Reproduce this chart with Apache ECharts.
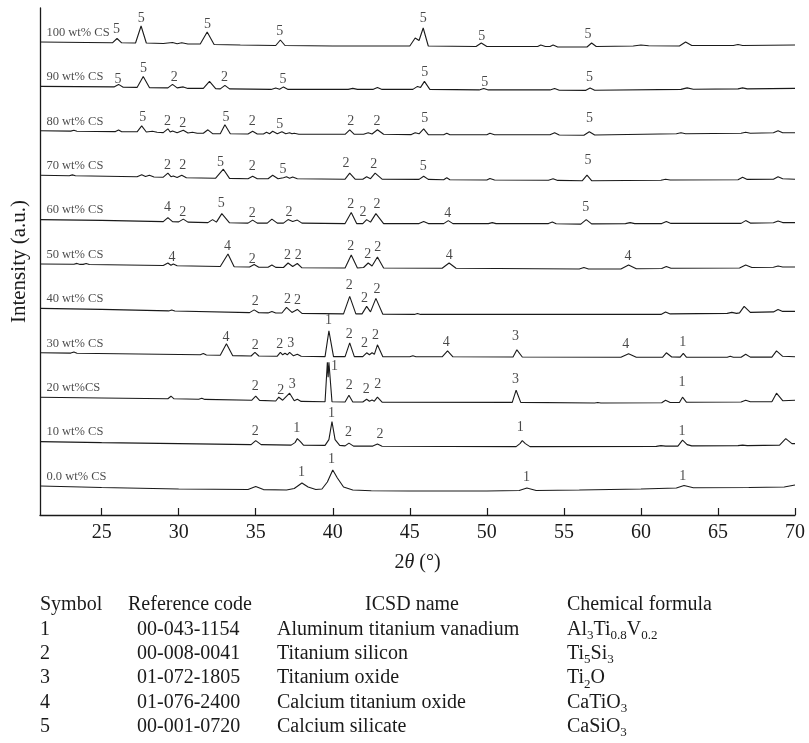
<!DOCTYPE html>
<html>
<head>
<meta charset="utf-8">
<title>XRD patterns</title>
<script src="https://cdn.jsdelivr.net/npm/echarts@6/dist/echarts.min.js"></script>
<style>
  html, body { margin: 0; padding: 0; background: #fff; }
  #chart { width: 809px; height: 743px; }
</style>
</head>
<body>
<div id="chart"></div>
<script>
// sample names, bottom to top
var samples = ['0.0 wt% CS', '10 wt% CS', '20 wt%CS', '30 wt% CS', '40 wt% CS', '50 wt% CS',
               '60 wt% CS', '70 wt% CS', '80 wt% CS', '90 wt% CS', '100 wt% CS'];

var xTicks = [25, 30, 35, 40, 45, 50, 55, 60, 65, 70];

// patterns: [2theta, intensity above own baseline]
var cs0 = [[21,0],[25,-1.5],[30,-3],[34.5,-3.5],[35.0,-0.5],[35.5,-3.6],[37.0,-4],[37.5,-2.5],[38.0,3],[38.4,-1],[38.9,-3.5],[39.3,-3],[39.65,4],[40.0,16],[40.3,8],[40.7,-1],[41.3,-4],[42.5,-4.8],[45,-5],[50,-5],[52.1,-4.5],[52.6,-2],[53.2,-4.5],[56,-4],[60,-3],[62.3,-2],[62.8,0.5],[63.4,-1.8],[67,-1.5],[69.3,-1],[70,1]];
var cs10 = [[21,0],[25,-1],[30,-2],[34.7,-3],[35.0,1],[35.35,-3],[37.3,-3.5],[37.55,-1],[37.7,3],[37.9,0],[38.1,-3.5],[39.5,-3.8],[39.75,2],[39.95,20],[40.15,2],[40.45,-3.8],[40.8,-4.3],[41.05,-1.5],[41.35,-4.5],[42.6,-4.5],[42.9,-2.5],[43.2,-4.6],[51.9,-5],[52.15,-2],[52.3,1],[52.5,-2],[52.8,-5],[61.0,-4.8],[61.3,-4],[61.6,-4.5],[62.4,-4.5],[62.7,1.5],[63.0,-3],[63.3,-4.3],[66.3,-4],[66.6,-3.5],[66.9,-4],[69.0,-3.5],[69.4,3],[69.8,-2],[70,-2]];
var cs20 = [[21,0],[25,-0.8],[29.3,-1.5],[29.5,1],[29.7,-1.6],[31.3,-2],[31.5,-1],[31.7,-2.2],[34.75,-3],[35.0,1],[35.25,-3.2],[36.3,-3.8],[36.5,0],[36.75,-3],[37.2,4],[37.5,-3.5],[37.7,-2],[37.95,-4.2],[39.5,-4.5],[39.65,35],[39.7,20],[39.75,35],[39.95,-4.5],[40.8,-4.8],[41.05,2],[41.3,-4.8],[41.95,-4.8],[42.2,-2],[42.38,-4],[42.55,-2.8],[42.7,-4],[42.9,0],[43.2,-5],[51.65,-5.2],[51.9,7],[52.2,-5.2],[57.0,-5.8],[57.2,-5.3],[57.4,-5.8],[61.35,-5.5],[61.6,-3],[61.9,-5.3],[62.5,-5.3],[62.7,0],[62.95,-5],[66.5,-4.8],[66.8,-3],[67.1,-4.6],[68.5,-4.5],[68.8,4],[69.2,-3.5],[70,-3]];
var cs30 = [[21,0],[23.0,-0.3],[23.2,0.8],[23.4,-0.4],[31.4,-2],[31.6,-0.8],[31.8,-2.2],[32.7,-2.5],[33.1,9],[33.5,-2.8],[34.7,-3.2],[34.95,0.5],[35.2,-3.2],[36.4,-3.4],[36.6,0.5],[36.75,-2],[36.9,-0.5],[37.05,-2],[37.2,0.5],[37.45,-3],[37.7,-1.5],[37.95,-3.5],[39.5,-3.8],[39.75,22],[40.05,-3.8],[40.8,-3.8],[41.1,10],[41.4,-3.8],[41.95,-3.8],[42.2,0],[42.38,-2],[42.55,0],[42.7,-1.5],[42.9,8],[43.25,-4],[45.0,-4],[45.2,-3],[45.4,-4],[47.1,-4],[47.45,2],[47.8,-4],[51.7,-4.2],[51.95,3],[52.3,-4.2],[58.7,-4.5],[59.2,-1],[59.7,-4.5],[61.4,-4.5],[61.65,0],[62.0,-4.2],[62.55,-4.3],[62.75,-0.5],[62.95,-4.3],[65.6,-4.5],[65.8,-3.5],[66.0,-4.5],[66.5,-4.5],[66.8,-1.5],[67.1,-4.3],[68.5,-4.3],[68.8,2],[69.2,-3.5],[70,-4]];
var cs40 = [[21,0],[25,-1],[29.35,-2.5],[29.55,-1.5],[29.75,-2.6],[34.6,-4.2],[34.9,-1.5],[35.2,-4.3],[35.8,-4.5],[36.05,-3],[36.3,-4.6],[36.7,-4.6],[37.0,1],[37.35,-4],[37.7,-1],[38.0,-5],[40.7,-5.5],[41.1,12],[41.5,-5.5],[41.9,-5.5],[42.2,2],[42.45,-3.5],[42.8,10],[43.25,-5.8],[45.3,-6],[45.5,-5],[45.7,-6],[61.3,-6],[61.6,-3.5],[61.9,-5.5],[65.6,-5],[65.9,-4],[66.2,-5],[66.4,-4.5],[66.7,2],[67.1,-4],[68.6,-3.5],[68.9,-1],[69.2,-3],[70,-3]];
var cs50 = [[21,0],[23.2,-0.3],[23.4,0.6],[23.6,-0.4],[23.8,-0.4],[24.0,0.5],[24.2,-0.5],[29.0,-1.5],[29.3,1],[29.5,-1.3],[29.65,0],[29.9,-1.8],[32.7,-2.5],[33.2,10],[33.6,-2.8],[34.6,-3],[34.9,-0.5],[35.2,-3.2],[35.8,-3.3],[36.05,-1],[36.3,-3.4],[36.8,-3.5],[37.1,1],[37.4,-2.5],[37.7,0.5],[38.0,-3.8],[40.8,-4],[41.2,9],[41.6,-4],[42.0,-3.5],[42.3,1],[42.55,-2],[42.9,7],[43.3,-4],[47.1,-4.2],[47.55,1],[48.0,-4.3],[56.0,-5],[56.3,-3.5],[56.6,-5],[58.7,-5],[59.2,-1],[59.7,-4.8],[61.35,-4.5],[61.65,-2.5],[61.95,-4.3],[66.4,-4],[66.8,-1],[67.2,-3.5],[68.6,-3.2],[68.9,-2],[69.2,-3],[70,-3]];
var cs60 = [[21,0],[25,-0.8],[29.0,-2],[29.3,2],[29.6,-2],[30.0,-2.3],[30.3,0.5],[30.6,-2.5],[31.9,-3],[32.2,0],[32.45,-2.5],[32.8,6],[33.3,-3.2],[34.5,-3.5],[34.8,-0.5],[35.1,-3.5],[35.75,-3.5],[36.05,0.5],[36.4,-3.5],[36.8,-3.5],[37.1,0],[37.4,-2],[37.7,-0.5],[38.0,-3.5],[40.8,-4],[41.2,7],[41.55,-4],[41.95,-4],[42.2,0],[42.45,-2.5],[42.8,6],[43.3,-4],[45.6,-4],[45.9,-2],[46.2,-4],[47.2,-4],[47.5,-1],[47.8,-4],[50.1,-4],[50.35,-3],[50.6,-4],[54.0,-4],[54.25,-2.5],[54.5,-4.2],[56.1,-4.5],[56.45,0],[56.8,-4.3],[59.0,-4],[59.3,-3],[59.6,-4],[61.35,-4],[61.65,-2],[61.95,-3.8],[66.5,-3.8],[66.8,-1],[67.1,-3.5],[68.6,-3.2],[68.9,-1.5],[69.2,-3],[70,-3]];
var cs70 = [[21,0],[22.9,-0.5],[23.1,0.3],[23.3,-0.6],[27.3,-1.5],[27.6,0.5],[27.85,-1.3],[28.1,0],[28.4,-1.8],[29.0,-2],[29.3,2],[29.5,-1.5],[29.65,-0.8],[29.9,-2.2],[30.2,0],[30.5,-2.5],[32.4,-3],[32.9,6],[33.3,-3.2],[34.5,-3.5],[34.8,-1],[35.1,-3.5],[35.8,-3.5],[36.1,0],[36.45,-3.5],[36.8,-2.5],[37.0,-1.5],[37.2,-3],[37.4,-1.8],[37.7,-3.5],[40.8,-4],[41.1,2],[41.45,-4],[41.95,-4],[42.2,-1.5],[42.45,-3.5],[42.75,2],[43.2,-4],[45.6,-4.2],[45.9,-1],[46.2,-4.2],[47.2,-4.5],[47.4,-2.5],[47.6,-4.5],[50.0,-4.8],[50.2,-3.2],[50.5,-4.8],[54.0,-5],[54.3,-3.5],[54.6,-5.2],[56.2,-5.5],[56.5,0],[56.8,-5.5],[61.3,-5],[61.6,-4],[61.9,-4.8],[66.3,-4.5],[66.6,-2],[66.9,-4.2],[68.6,-4],[68.9,-1.5],[69.2,-3.5],[70,-4]];
var cs80 = [[21,0],[23.0,-0.3],[23.2,0.5],[23.4,-0.4],[25.9,-0.8],[26.1,0.8],[26.3,-0.9],[27.3,-1],[27.6,5],[27.9,-1.2],[28.3,-0.5],[28.6,-1.5],[29.0,-1.8],[29.3,2],[29.45,-1.2],[29.6,-0.2],[29.9,-2],[30.3,0.5],[30.6,-2.2],[30.9,-1.5],[31.2,-2.5],[31.6,-2.5],[31.9,1],[32.2,-2.8],[32.7,-3],[33.0,6],[33.35,-3],[34.5,-3.2],[34.8,-0.5],[35.1,-3.2],[35.5,-3.2],[35.7,-1.5],[35.9,-3],[36.1,-0.5],[36.4,-3],[36.7,-1],[36.95,-3],[37.2,-2],[37.35,-3],[37.5,-2.5],[37.8,-3.5],[40.8,-3.5],[41.1,1],[41.4,-3.5],[42.0,-3.5],[42.3,-2],[42.55,-3.2],[42.9,1],[43.3,-3.5],[45.1,-3.8],[45.35,-2],[45.6,-3],[45.9,2],[46.2,-3.8],[47.2,-4],[47.4,-2.5],[47.6,-4],[50.0,-4],[50.2,-2.5],[50.5,-4],[54.1,-4],[54.4,-2],[54.7,-4.2],[56.3,-4.5],[56.65,-1],[57.0,-4.2],[62.3,-3],[62.6,-2],[62.9,-3],[66.5,-2.5],[66.8,-1.5],[67.1,-2.5],[68.6,-2],[68.9,0],[69.2,-2],[70,-2]];
var cs90 = [[21,0],[25.8,-0.5],[26.1,2],[26.4,-0.8],[27.3,-1],[27.7,10],[28.1,-1.2],[29.3,-1.5],[29.6,2],[29.9,-1.5],[30.3,-0.5],[30.6,-2],[31.6,-2],[32.0,5],[32.4,-2.3],[32.7,-2.5],[33.0,1],[33.3,-2.5],[36.0,-3],[36.3,-1.5],[36.55,-2.8],[36.8,-0.5],[37.1,-3],[41.0,-3],[41.3,-2],[41.6,-3],[42.6,-3],[42.9,-1],[43.2,-3],[45.2,-3],[45.5,0],[45.7,-1],[45.95,5],[46.3,-3],[49.5,-3.5],[49.8,-2],[50.1,-3.5],[54.1,-3.5],[54.4,-2],[54.7,-3.8],[56.4,-4],[56.7,-1.5],[57.0,-3.8],[62.6,-3],[63,-1.5],[63.4,-2.8],[66.3,-2.5],[66.6,-1.5],[66.9,-2.5],[70,-2]];
var cs100 = [[21,0],[24,-0.5],[25.7,-0.8],[26.0,3.5],[26.3,-0.8],[27.2,-1],[27.56,16],[27.9,-1],[29.0,-1.5],[29.6,-0.5],[29.9,-1.8],[30.2,-0.8],[30.6,-2],[31.4,-2],[31.85,10],[32.3,-2.5],[34,-3],[36.3,-3.5],[36.6,2],[36.9,-3.5],[40,-4],[43,-4],[45.0,-4],[45.35,4],[45.6,1.5],[45.87,14],[46.2,-4],[49.3,-4.5],[49.64,-1],[50.0,-4.5],[53.3,-4.5],[53.5,-3],[53.8,-4.5],[54.1,-4.5],[54.3,-3],[54.6,-5],[56.5,-5],[56.8,-1],[57.1,-4.5],[59.5,-4],[60,-3],[60.5,-3.8],[62.5,-4],[62.9,0],[63.3,-3.5],[66,-3.5],[66.3,-2.5],[66.6,-3.5],[70,-3]];

// phase symbols over the peaks: [2theta, height of the symbol, symbol]
var marks0 = [[38.0,13,'1'],[39.95,26,'1'],[52.6,8,'1'],[62.75,9,'1']];
var marks10 = [[35.0,10,'2'],[37.7,13,'1'],[39.95,28,'1'],[41.05,9,'2'],[43.1,7,'2'],[52.2,14,'1'],[62.7,10,'1']];
var marks20 = [[35.0,10,'2'],[36.65,6,'2'],[37.4,12,'3'],[40.15,30,'1'],[41.1,11,'2'],[42.2,7,'2'],[42.95,12,'2'],[51.9,17,'3'],[62.7,14,'1']];
var marks30 = [[33.1,15,'4'],[35.0,7,'2'],[36.6,8,'2'],[37.3,9,'3'],[39.75,32,'1'],[41.1,18,'2'],[42.1,9,'2'],[42.8,17,'2'],[47.4,10,'4'],[51.9,16,'3'],[59.05,8,'4'],[62.75,10,'1']];
var marks40 = [[35.0,7,'2'],[37.1,9,'2'],[37.75,8,'2'],[41.1,23,'2'],[42.1,10,'2'],[42.9,19,'2']];
var marks50 = [[29.6,6,'4'],[33.2,17,'4'],[34.8,4,'2'],[37.1,8,'2'],[37.8,8,'2'],[41.2,17,'2'],[42.3,9,'2'],[42.95,16,'2'],[47.6,8,'4'],[59.2,7,'4']];
var marks60 = [[29.3,12,'4'],[30.3,7,'2'],[32.8,16,'5'],[34.8,6,'2'],[37.2,7,'2'],[41.2,15,'2'],[42.0,7,'2'],[42.9,15,'2'],[47.5,6,'4'],[56.45,12,'5']];
var marks70 = [[29.3,9,'2'],[30.3,9,'2'],[32.75,12,'5'],[34.8,8,'2'],[36.8,5,'5'],[40.9,11,'2'],[42.7,10,'2'],[45.9,8,'5'],[56.6,14,'5']];
var marks80 = [[27.7,13,'5'],[29.3,9,'2'],[30.3,7,'2'],[33.1,13,'5'],[34.8,9,'2'],[36.6,6,'5'],[41.2,9,'2'],[42.9,9,'2'],[46.0,12,'5'],[56.7,12,'5']];
var marks90 = [[26.1,7,'5'],[27.75,18,'5'],[29.75,9,'2'],[33.0,9,'2'],[36.8,7,'5'],[46.0,14,'5'],[49.9,4,'5'],[56.7,9,'5']];
var marks100 = [[26.0,12,'5'],[27.6,23,'5'],[31.9,17,'5'],[36.6,10,'5'],[45.9,23,'5'],[49.7,5,'5'],[56.6,7,'5']];

// phase table under the plot
var tableHeader = ['Symbol', 'Reference code', 'ICSD name', 'Chemical formula'];
var tableSymbols = ['1', '2', '3', '4', '5'];
var tableCodes = ['00-043-1154', '00-008-0041', '01-072-1805', '01-076-2400', '00-001-0720'];
var tableNames = ['Aluminum titanium vanadium', 'Titanium silicon', 'Titanium oxide', 'Calcium titanium oxide', 'Calcium silicate'];
var tableFormulas = ['Al{s|3}Ti{s|0.8}V{s|0.2}', 'Ti{s|5}Si{s|3}', 'Ti{s|2}O', 'CaTiO{s|3}', 'CaSiO{s|3}'];

var patterns = [cs0, cs10, cs20, cs30, cs40, cs50, cs60, cs70, cs80, cs90, cs100];
var marks = [marks0, marks10, marks20, marks30, marks40, marks50, marks60, marks70, marks80, marks90, marks100];

var FONT = "'Liberation Serif', 'DejaVu Serif', serif";
var INK = '#1a1a1a';
var firstBase = 29, step = 44.4;

var series = [];
var markData = [];
var nameData = [];

patterns.forEach(function (p, i) {
    var off = firstBase + step * i;
    series.push({
        type: 'line',
        data: p.map(function (d) { return [d[0], d[1] + off]; }),
        symbol: 'none',
        silent: true,
        color: INK,
        lineStyle: { color: INK, width: 1.1 },
        z: 2
    });
    marks[i].forEach(function (m) {
        markData.push({ value: [m[0], m[1] + off], name: m[2] });
    });
    nameData.push({ value: [21.45, off + 9], name: samples[i] });
});

series.push({
    type: 'scatter',
    data: markData,
    symbolSize: 1,
    silent: true,
    color: INK,
    itemStyle: { color: 'rgba(0,0,0,0)' },
    label: {
        show: true, formatter: '{b}', position: [0, 0],
        align: 'center', verticalAlign: 'middle',
        fontFamily: FONT, fontSize: 14, color: INK, textBorderWidth: 0
    },
    z: 3
});
series.push({
    type: 'scatter',
    data: nameData,
    symbolSize: 1,
    silent: true,
    color: INK,
    itemStyle: { color: 'rgba(0,0,0,0)' },
    label: {
        show: true, formatter: '{b}', position: [0, 0],
        align: 'left', verticalAlign: 'middle',
        fontFamily: FONT, fontSize: 12.5, color: INK, textBorderWidth: 0
    },
    z: 3
});

// table as graphic text
var tableTop = 605, rowStep = 24.4, tableFont = 20;
var graphics = [];
function txt(x, y, text, align, rich) {
    var style = {
        text: text, x: x, y: y, align: align || 'left', verticalAlign: 'middle',
        fontFamily: FONT, fontSize: tableFont, fill: INK
    };
    if (rich) {
        style.rich = { s: { fontFamily: FONT, fontSize: 13, fill: INK, lineHeight: 13, padding: [12, 0, 0, 0] } };
    }
    graphics.push({ type: 'text', silent: true, style: style });
}
txt(40, tableTop, tableHeader[0]);
txt(128, tableTop, tableHeader[1]);
txt(412, tableTop, tableHeader[2], 'center');
txt(567, tableTop, tableHeader[3]);
tableSymbols.forEach(function (s, k) {
    var y = tableTop + rowStep * (k + 1);
    txt(40, y, s);
    txt(137, y, tableCodes[k]);
    txt(277, y, tableNames[k]);
    txt(567, y, tableFormulas[k], 'left', true);
});

var chart = echarts.init(document.getElementById('chart'));
chart.setOption({
    backgroundColor: '#fff',
    animation: false,
    grid: { left: 40, right: 14, top: 8, bottom: 228 },
    xAxis: {
        type: 'value', min: 21, max: 70,
        name: '{a|2}{i|θ}{a| (°)}',
        nameLocation: 'middle', nameGap: 38,
        nameTextStyle: {
            rich: {
                a: { fontFamily: FONT, fontSize: 20, color: INK },
                i: { fontFamily: FONT, fontSize: 20, fontStyle: 'italic', color: INK }
            }
        },
        axisLine: { lineStyle: { color: INK, width: 1.3 } },
        axisTick: { inside: true, length: 7, customValues: xTicks, lineStyle: { color: INK, width: 1.2 } },
        axisLabel: { customValues: xTicks, margin: 8, fontFamily: FONT, fontSize: 20, color: INK },
        splitLine: { show: false }
    },
    yAxis: {
        type: 'value', min: 0, max: 507,
        name: 'Intensity (a.u.)', nameLocation: 'middle', nameGap: 10, nameRotate: 90,
        nameTextStyle: { fontFamily: FONT, fontSize: 21, color: INK },
        axisLine: { show: true, lineStyle: { color: INK, width: 1.3 } },
        axisTick: { show: false },
        axisLabel: { show: false },
        splitLine: { show: false }
    },
    graphic: graphics,
    series: series
});
</script>
</body>
</html>
